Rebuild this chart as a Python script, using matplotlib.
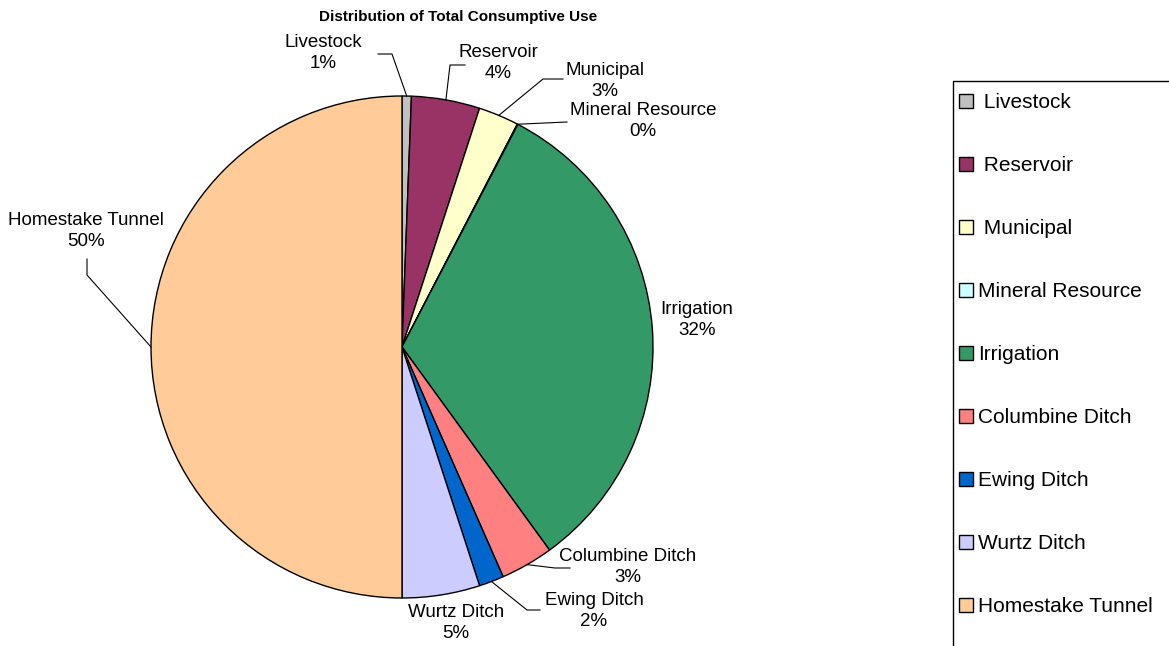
import matplotlib
matplotlib.use('Agg')
import matplotlib.pyplot as plt
from matplotlib.patches import Rectangle
import numpy as np

plt.rcParams['font.family'] = ['Liberation Sans', 'DejaVu Sans']

# consumptive use shares (%)
categories = ['Livestock', 'Reservoir', 'Municipal', 'Mineral Resource', 'Irrigation',
              'Columbine Ditch', 'Ewing Ditch', 'Wurtz Ditch', 'Homestake Tunnel']
legend_names = [' Livestock', ' Reservoir', ' Municipal', 'Mineral Resource', 'Irrigation',
                'Columbine Ditch', 'Ewing Ditch', 'Wurtz Ditch', 'Homestake Tunnel']
shares = [0.6, 4.4, 2.6, 0.04, 32.36, 3.4, 1.6, 5.0, 50.0]
colors = ['#C0C0C0', '#993366', '#FFFFCC', '#CCFFFF', '#339966',
          '#FF8080', '#0066CC', '#CCCCFF', '#FFCC99']

W, H = 1169, 646
CX, CY, R = 402, 347, 251   # pie centre / radius in pixels

# label block centres and leader bends, in pixels
label_pos = [(323, 53), (498, 63), (605, 81), (643, 121), (697, 320),
             (628, 567), (594, 611), (456, 623), (86, 231)]
leader_pts = [[(392, 54), (378, 54)],
              [(450, 65), (465, 65)],
              [(543, 79), (563, 79)],
              [(567, 122)],
              None,
              [(555, 568), (570, 568)],
              [(527, 610), (540, 610)],
              None,
              [(87, 275), (87, 259)]]


def px(p):
    return ((p[0] - CX) / R, (CY - p[1]) / R)


fig = plt.figure(figsize=(W / 100, H / 100), dpi=100)
ax = fig.add_axes([(CX - R) / W, (H - CY - R) / H, 2 * R / W, 2 * R / H])

wedges, _ = ax.pie(shares, colors=colors, startangle=90, counterclock=False, radius=1,
                   wedgeprops=dict(edgecolor='black', linewidth=1.0))
ax.set_xlim(-1, 1)
ax.set_ylim(-1, 1)
ax.set_aspect('equal')
ax.axis('off')

total = sum(shares)
start = 0.0
for i, val in enumerate(shares):
    mid = (start + val / 2) / total * 2 * np.pi
    start += val
    x0, y0 = np.sin(mid), np.cos(mid)
    tx, ty = px(label_pos[i])
    ax.text(tx, ty, f'{categories[i]}\n{val / total * 100:.0f}%', ha='center', va='center',
            fontsize=13.5, linespacing=1.35, clip_on=False)
    if leader_pts[i] is not None:
        pts = [(x0, y0)] + [px(p) for p in leader_pts[i]]
        xs, ys = zip(*pts)
        ax.plot(xs, ys, color='black', lw=0.8, clip_on=False)

fig.text(458 / W, 1 - 17 / H, 'Distribution of Total Consumptive Use', ha='center', va='center',
         fontsize=11, fontweight='bold')

# legend box runs off the right and bottom edges
fig.add_artist(Rectangle((953 / W, -0.05), 0.2, 1 - 81 / H + 0.05, transform=fig.transFigure,
                         facecolor='none', edgecolor='black', lw=1.0, clip_on=False))
fig.legend(wedges, legend_names, loc='upper left', bbox_to_anchor=(953 / W, 1 - 87 / H),
           frameon=False, fontsize=15, handlelength=0.65, handleheight=0.65,
           handletextpad=0.25, labelspacing=2.11, borderpad=0.3, borderaxespad=0)

fig.savefig('out.png', dpi=100)
